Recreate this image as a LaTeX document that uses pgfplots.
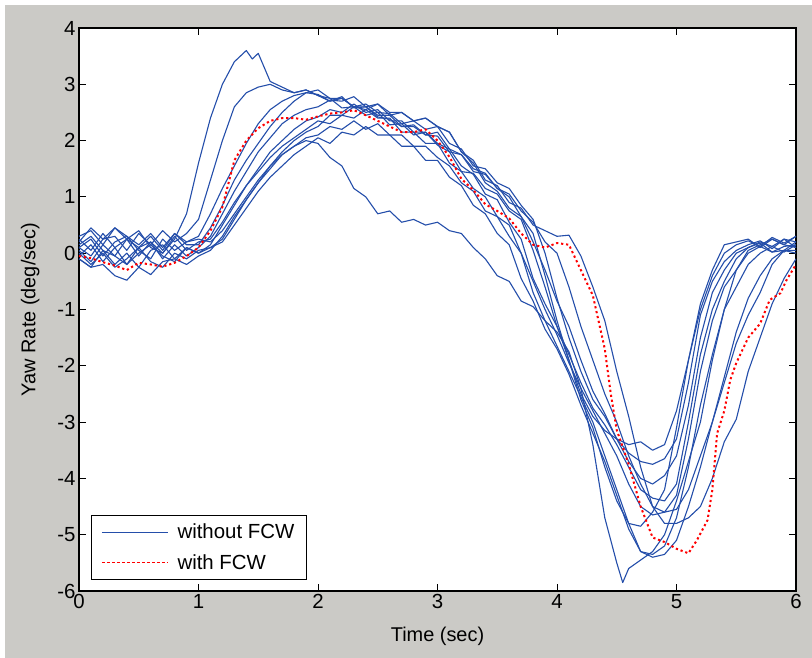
\documentclass[border=0pt]{standalone}
\usepackage{fontspec}
\setmainfont{Liberation Sans}
\usepackage{pgfplots}
\pgfplotsset{compat=1.18}
\usetikzlibrary{backgrounds}
\definecolor{figgray}{RGB}{203,202,198}
\definecolor{lblue}{RGB}{36,78,170}
\definecolor{lred}{RGB}{255,0,0}
\begin{document}
\begin{tikzpicture}
\begin{axis}[
  scale only axis, width=717bp, height=563bp,
  xmin=0, xmax=6, ymin=-6, ymax=4,
  xtick={0,1,2,3,4,5,6}, ytick={-6,-5,-4,-3,-2,-1,0,1,2,3,4},
  tick align=inside, major tick length=7bp,
  axis line style={line width=1.1pt, black},
  tick style={black, line width=0.9pt},
  axis background/.style={fill=white},
  /pgf/number format/assume math mode=true,
  ticklabel style={font=\fontsize{20.5}{24}\selectfont},
  label style={font=\fontsize{20}{24}\selectfont},
  xlabel={Time (sec)}, ylabel={Yaw Rate (deg/sec)},
  xlabel style={at={(axis description cs:0.5,-0.08)}, anchor=center},
  ylabel style={at={(axis description cs:-0.068,0.5)}, anchor=center},
  legend style={at={(axis description cs:0.0167,0.0195)}, anchor=south west,
    draw=black, line width=0.9pt, font=\fontsize{20.5}{24}\selectfont,
    inner xsep=10bp, inner ysep=7bp, row sep=10bp},
  legend cell align=left,
  legend image code/.code={\draw[#1] (0bp,0bp) -- (66bp,0bp); \path (73bp,0bp);},
  every axis plot/.append style={line join=round},
]
% blue curves (without FCW)
\addplot[lblue, line width=1.1bp, forget plot] coordinates {
(0,0.25)(0.1,0.05)(0.2,0.35)(0.3,0.1)(0.4,0.25)(0.5,-0.05)(0.6,0.2)(0.7,0.0)(0.8,0.25)(0.9,0.7)
(1.0,1.6)(1.1,2.4)(1.2,3.0)(1.3,3.4)(1.35,3.5)(1.4,3.6)(1.45,3.45)(1.5,3.55)(1.6,3.05)(1.7,2.95)(1.8,2.85)(1.9,2.9)
(2.0,2.8)(2.1,2.7)(2.2,2.78)(2.3,2.58)(2.4,2.6)(2.5,2.42)(2.6,2.38)(2.7,2.25)(2.8,2.28)(2.9,2.1)
(3.0,2.08)(3.1,1.8)(3.2,1.75)(3.3,1.5)(3.4,1.42)(3.5,1.15)(3.6,1.0)(3.7,0.65)(3.8,0.35)(3.9,-0.4)
(4.0,-1.2)(4.1,-1.9)(4.2,-2.6)(4.3,-3.1)(4.4,-3.8)(4.5,-4.4)(4.6,-4.8)(4.7,-4.85)(4.8,-4.6)(4.9,-4.2)
(5.0,-3.1)(5.1,-1.9)(5.2,-1.0)(5.3,-0.4)(5.4,0.0)(5.5,0.15)(5.6,0.22)(5.7,0.12)(5.8,0.28)(5.9,0.18)(6.0,0.3)};
\addplot[lblue, line width=1.1bp, forget plot] coordinates {
(0,0.1)(0.1,-0.05)(0.2,0.25)(0.3,0.3)(0.4,0.05)(0.5,0.35)(0.6,0.15)(0.7,0.4)(0.8,0.2)(0.9,0.35)
(1.0,0.6)(1.1,1.3)(1.2,2.0)(1.3,2.6)(1.4,2.85)(1.5,2.95)(1.6,3.0)(1.7,2.9)(1.8,2.85)(1.9,2.9)
(2.0,2.8)(2.1,2.75)(2.2,2.58)(2.3,2.6)(2.4,2.45)(2.5,2.5)(2.6,2.28)(2.7,2.3)(2.8,2.1)(2.9,2.15)
(3.0,1.92)(3.1,1.8)(3.2,1.45)(3.3,1.42)(3.4,1.15)(3.5,1.05)(3.6,0.75)(3.7,0.6)(3.8,0.05)(3.9,-0.6)
(4.0,-1.3)(4.1,-1.9)(4.2,-2.5)(4.3,-2.9)(4.4,-3.15)(4.5,-3.3)(4.6,-3.4)(4.7,-3.35)(4.8,-3.5)(4.9,-3.4)
(5.0,-2.8)(5.1,-1.9)(5.2,-0.9)(5.3,-0.3)(5.4,0.15)(5.5,0.2)(5.6,0.25)(5.7,0.1)(5.8,0.25)(5.9,0.15)(6.0,0.1)};
\addplot[lblue, line width=1.1bp, forget plot] coordinates {
(0,0.3)(0.1,0.4)(0.2,0.15)(0.3,0.45)(0.4,0.25)(0.5,0.1)(0.6,0.3)(0.7,0.05)(0.8,0.35)(0.9,0.15)
(1.0,0.15)(1.1,0.45)(1.2,0.85)(1.3,1.3)(1.4,1.65)(1.5,1.95)(1.6,2.25)(1.7,2.5)(1.8,2.7)(1.9,2.85)
(2.0,2.82)(2.1,2.7)(2.2,2.75)(2.3,2.6)(2.4,2.65)(2.5,2.5)(2.6,2.48)(2.7,2.3)(2.8,2.35)(2.9,2.2)
(3.0,2.25)(3.1,1.95)(3.2,1.85)(3.3,1.55)(3.4,1.5)(3.5,1.25)(3.6,1.15)(3.7,0.85)(3.8,0.6)(3.9,0.0)
(4.0,-0.8)(4.1,-1.5)(4.2,-2.1)(4.3,-2.6)(4.4,-2.9)(4.5,-3.3)(4.6,-3.55)(4.7,-3.7)(4.8,-3.75)(4.9,-3.65)
(5.0,-3.3)(5.1,-2.3)(5.2,-1.1)(5.3,-0.5)(5.4,-0.15)(5.5,0.05)(5.6,0.15)(5.7,0.22)(5.8,0.08)(5.9,0.25)(6.0,0.2)};
\addplot[lblue, line width=1.1bp, forget plot] coordinates {
(0,0.05)(0.1,-0.15)(0.2,0.15)(0.3,-0.05)(0.4,-0.2)(0.5,0.1)(0.6,0.2)(0.7,-0.1)(0.8,0.15)(0.9,-0.05)
(1.0,0.1)(1.1,0.3)(1.2,0.7)(1.3,1.1)(1.4,1.45)(1.5,1.8)(1.6,2.05)(1.7,2.3)(1.8,2.45)(1.9,2.55)
(2.0,2.6)(2.1,2.72)(2.2,2.7)(2.3,2.78)(2.4,2.6)(2.5,2.65)(2.6,2.45)(2.7,2.5)(2.8,2.35)(2.9,2.4)
(3.0,2.25)(3.1,2.15)(3.2,1.8)(3.3,1.6)(3.4,1.25)(3.5,1.1)(3.6,0.8)(3.7,0.65)(3.8,0.2)(3.9,-0.3)
(4.0,-0.85)(4.1,-1.3)(4.2,-1.9)(4.3,-2.45)(4.4,-2.85)(4.5,-3.3)(4.6,-3.7)(4.7,-4.0)(4.8,-4.1)(4.9,-3.95)
(5.0,-3.6)(5.1,-2.7)(5.2,-1.5)(5.3,-0.7)(5.4,-0.3)(5.5,0.0)(5.6,0.1)(5.7,0.18)(5.8,0.02)(5.9,0.12)(6.0,0.15)};
\addplot[lblue, line width=1.1bp, forget plot] coordinates {
(0,-0.1)(0.1,-0.25)(0.2,0.05)(0.3,-0.2)(0.4,0.0)(0.5,-0.25)(0.6,0.05)(0.7,0.15)(0.8,-0.1)(0.9,0.1)
(1.0,0.0)(1.1,0.15)(1.2,0.5)(1.3,0.85)(1.4,1.2)(1.5,1.5)(1.6,1.8)(1.7,2.0)(1.8,2.2)(1.9,2.35)
(2.0,2.42)(2.1,2.55)(2.2,2.5)(2.3,2.65)(2.4,2.5)(2.5,2.55)(2.6,2.35)(2.7,2.35)(2.8,2.15)(2.9,2.15)
(3.0,1.95)(3.1,1.85)(3.2,1.55)(3.3,1.4)(3.4,1.05)(3.5,0.95)(3.6,0.55)(3.7,0.25)(3.8,-0.45)(3.9,-0.9)
(4.0,-1.3)(4.1,-1.8)(4.2,-2.3)(4.3,-2.75)(4.4,-3.05)(4.5,-3.4)(4.6,-3.8)(4.7,-4.2)(4.8,-4.35)(4.9,-4.4)
(5.0,-4.1)(5.1,-3.0)(5.2,-1.8)(5.3,-1.0)(5.4,-0.5)(5.5,-0.1)(5.6,0.1)(5.7,0.2)(5.8,0.12)(5.9,0.25)(6.0,0.1)};
\addplot[lblue, line width=1.1bp, forget plot] coordinates {
(0,0.15)(0.1,0.3)(0.2,0.05)(0.3,-0.05)(0.4,0.25)(0.5,0.4)(0.6,0.1)(0.7,0.0)(0.8,0.3)(0.9,0.05)
(1.0,0.2)(1.1,0.25)(1.2,0.55)(1.3,0.9)(1.4,1.2)(1.5,1.45)(1.6,1.7)(1.7,1.9)(1.8,2.05)(1.9,2.2)
(2.0,2.35)(2.1,2.3)(2.2,2.45)(2.3,2.4)(2.4,2.55)(2.5,2.4)(2.6,2.4)(2.7,2.15)(2.8,2.15)(2.9,1.95)
(3.0,1.95)(3.1,1.6)(3.2,1.45)(3.3,1.15)(3.4,1.0)(3.5,0.65)(3.6,0.5)(3.7,0.0)(3.8,-0.5)(3.9,-1.0)
(4.0,-1.45)(4.1,-1.95)(4.2,-2.4)(4.3,-2.8)(4.4,-3.2)(4.5,-3.6)(4.6,-4.1)(4.7,-4.5)(4.8,-4.65)(4.9,-4.6)
(5.0,-4.3)(5.1,-3.3)(5.2,-2.1)(5.3,-1.2)(5.4,-0.6)(5.5,-0.3)(5.6,0.0)(5.7,0.12)(5.8,0.02)(5.9,0.05)(6.0,0.05)};
\addplot[lblue, line width=1.1bp, forget plot] coordinates {
(0,0.2)(0.1,0.45)(0.2,0.25)(0.3,0.45)(0.4,0.3)(0.5,0.15)(0.6,0.35)(0.7,0.1)(0.8,0.35)(0.9,0.2)
(1.0,0.25)(1.1,0.2)(1.2,0.4)(1.3,0.7)(1.4,1.0)(1.5,1.3)(1.6,1.55)(1.7,1.75)(1.8,1.9)(1.9,2.0)
(2.0,1.95)(2.1,1.7)(2.2,1.55)(2.3,1.15)(2.4,1.0)(2.5,0.7)(2.6,0.75)(2.7,0.55)(2.8,0.6)(2.9,0.5)
(3.0,0.55)(3.1,0.4)(3.2,0.35)(3.3,0.1)(3.4,-0.1)(3.5,-0.4)(3.6,-0.5)(3.7,-0.85)(3.8,-0.95)(3.9,-1.2)
(4.0,-1.4)(4.1,-1.75)(4.2,-2.4)(4.3,-3.4)(4.4,-4.7)(4.5,-5.5)(4.55,-5.85)(4.6,-5.6)(4.7,-5.45)(4.8,-5.3)(4.9,-5.0)
(5.0,-4.4)(5.1,-3.7)(5.2,-3.0)(5.3,-1.9)(5.4,-1.0)(5.5,-0.3)(5.6,0.05)(5.7,0.15)(5.8,0.25)(5.9,0.15)(6.0,0.3)};
\addplot[lblue, line width=1.1bp, forget plot] coordinates {
(0,-0.1)(0.1,-0.25)(0.2,-0.2)(0.3,-0.4)(0.4,-0.48)(0.5,-0.25)(0.6,-0.38)(0.7,-0.15)(0.8,-0.1)(0.9,-0.2)
(1.0,-0.05)(1.1,0.05)(1.2,0.3)(1.3,0.65)(1.4,0.95)(1.5,1.25)(1.6,1.5)(1.7,1.75)(1.8,1.9)(1.9,2.05)
(2.0,2.1)(2.1,2.25)(2.2,2.2)(2.3,2.35)(2.4,2.2)(2.5,2.3)(2.6,2.1)(2.7,2.1)(2.8,1.9)(2.9,1.9)
(3.0,1.7)(3.1,1.55)(3.2,1.25)(3.3,1.1)(3.4,0.75)(3.5,0.65)(3.6,0.3)(3.7,0.0)(3.8,-0.7)(3.9,-1.2)
(4.0,-1.65)(4.1,-2.1)(4.2,-2.55)(4.3,-3.0)(4.4,-3.6)(4.5,-4.2)(4.6,-4.8)(4.7,-5.3)(4.8,-5.35)(4.9,-5.2)
(5.0,-4.7)(5.1,-3.8)(5.2,-2.7)(5.3,-1.8)(5.4,-1.0)(5.5,-0.6)(5.6,-0.2)(5.7,0.0)(5.8,0.12)(5.9,0.02)(6.0,0.15)};
\addplot[lblue, line width=1.1bp, forget plot] coordinates {
(0,-0.05)(0.1,0.15)(0.2,-0.15)(0.3,0.1)(0.4,-0.2)(0.5,0.0)(0.6,0.15)(0.7,-0.05)(0.8,-0.15)(0.9,0.1)
(1.0,0.0)(1.1,0.1)(1.2,0.2)(1.3,0.5)(1.4,0.8)(1.5,1.1)(1.6,1.35)(1.7,1.55)(1.8,1.75)(1.9,1.9)
(2.0,2.05)(2.1,1.95)(2.2,2.15)(2.3,2.1)(2.4,2.25)(2.5,2.1)(2.6,2.1)(2.7,1.9)(2.8,1.9)(2.9,1.65)
(3.0,1.65)(3.1,1.35)(3.2,1.2)(3.3,0.85)(3.4,0.7)(3.5,0.35)(3.6,0.15)(3.7,-0.45)(3.8,-0.85)(3.9,-1.35)
(4.0,-1.7)(4.1,-2.15)(4.2,-2.7)(4.3,-3.2)(4.4,-3.7)(4.5,-4.3)(4.6,-4.9)(4.7,-5.3)(4.8,-5.4)(4.9,-5.35)
(5.0,-5.1)(5.1,-4.5)(5.2,-3.8)(5.3,-3.0)(5.4,-2.2)(5.5,-1.4)(5.6,-0.8)(5.7,-0.4)(5.8,-0.1)(5.9,0.05)(6.0,0.0)};
\addplot[lblue, line width=1.1bp, forget plot] coordinates {
(0,0.0)(0.1,-0.2)(0.2,0.0)(0.3,-0.25)(0.4,-0.1)(0.5,0.1)(0.6,-0.15)(0.7,-0.25)(0.8,0.0)(0.9,-0.1)
(1.0,0.05)(1.1,0.1)(1.2,0.25)(1.3,0.6)(1.4,0.95)(1.5,1.25)(1.6,1.55)(1.7,1.8)(1.8,2.0)(1.9,2.15)
(2.0,2.25)(2.1,2.45)(2.2,2.45)(2.3,2.6)(2.4,2.55)(2.5,2.65)(2.6,2.5)(2.7,2.5)(2.8,2.35)(2.9,2.4)
(3.0,2.25)(3.1,2.15)(3.2,1.8)(3.3,1.65)(3.4,1.3)(3.5,1.2)(3.6,0.9)(3.7,0.8)(3.8,0.5)(3.9,0.4)
(4.0,0.3)(4.1,0.32)(4.2,-0.05)(4.3,-0.6)(4.4,-1.2)(4.5,-2.1)(4.6,-2.9)(4.7,-3.8)(4.8,-4.5)(4.9,-4.8)
(5.0,-4.8)(5.1,-4.7)(5.2,-4.5)(5.3,-4.0)(5.4,-3.35)(5.5,-2.95)(5.6,-2.1)(5.7,-1.5)(5.8,-0.9)(5.9,-0.45)(6.0,-0.1)};
\addplot[lblue, line width=1.1bp, forget plot] coordinates {
(0,0.1)(0.1,0.25)(0.2,-0.05)(0.3,0.2)(0.4,0.3)(0.5,0.05)(0.6,-0.1)(0.7,0.25)(0.8,0.05)(0.9,0.2)
(1.0,0.3)(1.1,0.7)(1.2,1.15)(1.3,1.55)(1.4,1.95)(1.5,2.3)(1.6,2.55)(1.7,2.7)(1.8,2.8)(1.9,2.85)
(2.0,2.9)(2.1,2.75)(2.2,2.75)(2.3,2.6)(2.4,2.6)(2.5,2.45)(2.6,2.45)(2.7,2.25)(2.8,2.25)(2.9,2.1)
(3.0,2.15)(3.1,1.85)(3.2,1.75)(3.3,1.45)(3.4,1.4)(3.5,1.15)(3.6,1.05)(3.7,0.75)(3.8,0.55)(3.9,0.2)
(4.0,0.0)(4.1,-0.6)(4.2,-1.3)(4.3,-1.9)(4.4,-2.5)(4.5,-3.0)(4.6,-3.6)(4.7,-4.1)(4.8,-4.5)(4.9,-4.6)
(5.0,-4.55)(5.1,-4.2)(5.2,-3.6)(5.3,-3.0)(5.4,-2.3)(5.5,-1.6)(5.6,-1.1)(5.7,-0.7)(5.8,-0.2)(5.9,0.05)(6.0,0.2)};
% red curve (with FCW)
\addplot[lred, line width=2bp, dash pattern=on 2.2bp off 2.8bp, forget plot] coordinates {
(0,-0.05)(0.1,-0.09)(0.2,-0.16)(0.3,-0.22)(0.4,-0.3)(0.5,-0.17)(0.6,-0.2)(0.7,-0.24)(0.8,-0.17)(0.9,-0.05)
(1.0,0.1)(1.1,0.4)(1.2,0.82)(1.3,1.65)(1.4,2.0)(1.5,2.22)(1.6,2.35)(1.7,2.4)(1.8,2.4)(1.9,2.37)
(2.0,2.43)(2.1,2.48)(2.2,2.5)(2.3,2.54)(2.4,2.45)(2.5,2.35)(2.6,2.25)(2.7,2.15)(2.8,2.15)(2.9,2.2)
(3.0,2.0)(3.1,1.71)(3.2,1.32)(3.3,1.12)(3.4,0.87)(3.5,0.75)(3.6,0.62)(3.7,0.35)(3.8,0.15)(3.9,0.1)
(4.0,0.18)(4.1,0.15)(4.2,-0.3)(4.3,-0.75)(4.4,-1.7)(4.45,-2.5)(4.5,-3.14)(4.6,-3.75)(4.7,-4.5)(4.8,-5.05)(4.9,-5.13)
(5.0,-5.25)(5.1,-5.33)(5.17,-5.1)(5.26,-4.74)(5.3,-4.2)(5.34,-3.2)(5.4,-2.8)(5.45,-2.25)(5.5,-1.95)(5.6,-1.5)
(5.7,-1.25)(5.78,-0.83)(5.87,-0.71)(5.92,-0.48)(6.0,-0.2)};
\addlegendimage{lblue, line width=1.1bp}
\addlegendentry{without FCW}
\addlegendimage{lred, line width=1.1bp, dash pattern=on 3bp off 2bp}
\addlegendentry{with FCW}
\end{axis}
\begin{scope}[on background layer]
\fill[white] (current axis.south west) ++(-79bp,-67bp) rectangle ++(812bp,658bp);
\fill[figgray] (current axis.south west) ++(-74bp,-67bp) rectangle ++(807bp,653bp);
\end{scope}
\end{tikzpicture}
\end{document}
